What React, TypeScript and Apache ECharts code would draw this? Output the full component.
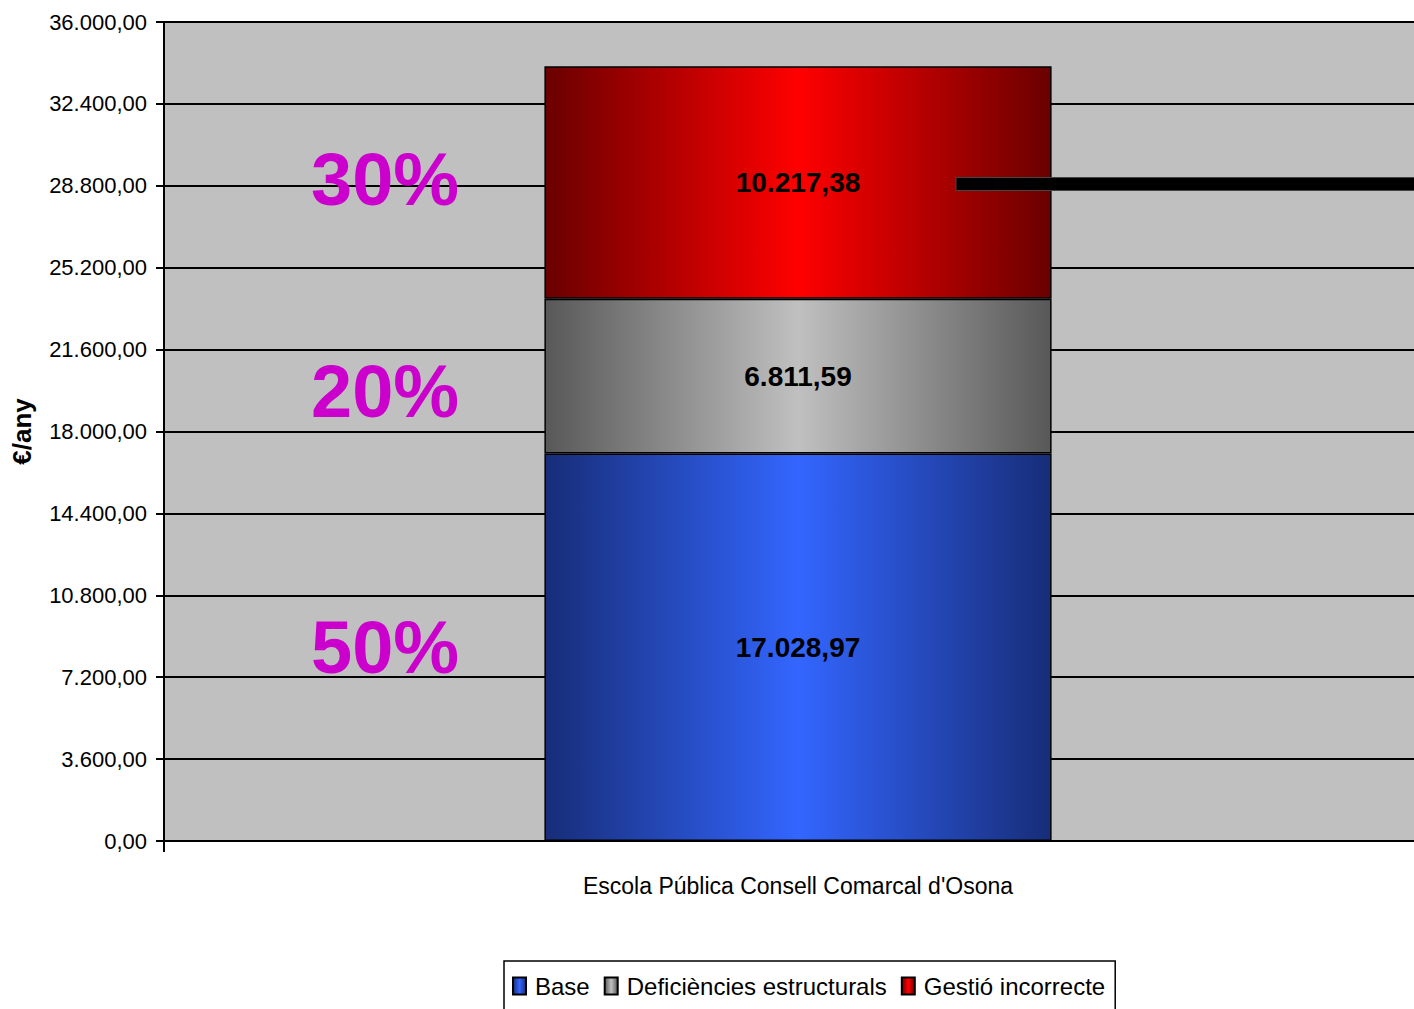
import React, { useEffect, useRef } from "react";
import * as echarts from "echarts";

const categories = ["Escola Pública Consell Comarcal d'Osona"];
const seriesNames = ["Base", "Deficiències estructurals", "Gestió incorrecte"];
const baseValues = [17028.97];
const deficienciesValues = [6811.59];
const gestioValues = [10217.38];
const pctLabels = ["50%", "20%", "30%"];
const yMin = 0;
const yMax = 36000;
const yInterval = 3600;

const NARROW = "'Liberation Sans Narrow', 'Arial Narrow', 'Liberation Sans', Arial, sans-serif";
const SANS = "'Liberation Sans', Arial, sans-serif";

function fmt(v: number): string {
  const fixed = Math.abs(v).toFixed(2);
  const [intPart, dec] = fixed.split(".");
  const withDots = intPart.replace(/\B(?=(\d{3})+(?!\d))/g, ".");
  return (v < 0 ? "-" : "") + withDots + "," + dec;
}

function grad(edge: string, mid: string) {
  return new echarts.graphic.LinearGradient(0, 0, 1, 0, [
    { offset: 0, color: edge },
    { offset: 0.5, color: mid },
    { offset: 1, color: edge },
  ]);
}

export default function App() {
  const ref = useRef<HTMLDivElement>(null);
  useEffect(() => {
    document.body.style.margin = "0";
    if (!ref.current) return;
    const chart = echarts.init(ref.current, undefined, { renderer: "svg" });
    const label = {
      show: true,
      position: "inside" as const,
      formatter: (p: any) => fmt(p.value),
      fontFamily: NARROW,
      fontWeight: "bold" as const,
      fontSize: 28,
      color: "#000",
    };
    const mk = (name: string, data: number[], edge: string, mid: string) => ({
      name,
      type: "bar" as const,
      stack: "total",
      barWidth: "40%",
      data,
      itemStyle: { color: grad(edge, mid), borderColor: "#000", borderWidth: 1.5 },
      label,
    });
    chart.setOption({
      animation: false,
      backgroundColor: "#fff",
      grid: {
        left: 164,
        top: 22,
        width: 1268,
        height: 819,
        outerBoundsMode: "none",
        containLabel: false,
        show: true,
        backgroundColor: "#C0C0C0",
        borderColor: "#808080",
        borderWidth: 1,
      },
      xAxis: {
        type: "category",
        data: categories,
        axisLine: { lineStyle: { color: "#000", width: 2 } },
        axisTick: { show: true, length: 11, lineStyle: { color: "#000", width: 2 } },
        axisLabel: { fontFamily: NARROW, fontSize: 23, color: "#000", margin: 33 },
      },
      yAxis: {
        type: "value",
        min: yMin,
        max: yMax,
        interval: yInterval,
        name: "€/any",
        nameLocation: "middle",
        nameGap: 129,
        nameTextStyle: { fontFamily: SANS, fontWeight: "bold", fontSize: 26, color: "#000" },
        axisLine: { show: true, lineStyle: { color: "#000", width: 2 } },
        axisTick: { show: true, length: 8, lineStyle: { color: "#000", width: 2 } },
        axisLabel: {
          fontFamily: NARROW,
          fontSize: 22,
          color: "#000",
          margin: 17,
          formatter: (v: number) => fmt(v),
        },
        splitLine: { show: true, lineStyle: { color: "#000", width: 2 } },
      },
      legend: {
        left: 504,
        top: 961,
        padding: [13, 10, 14, 8],
        itemGap: 14,
        itemWidth: 13,
        itemHeight: 17,
        icon: "rect",
        borderColor: "#000",
        borderWidth: 1.5,
        backgroundColor: "#fff",
        textStyle: { fontFamily: NARROW, fontSize: 24, color: "#000", padding: [0, 0, 0, 4] },
        data: seriesNames,
      },
      series: [
        mk(seriesNames[0], baseValues, "#172d78", "#3366ff"),
        mk(seriesNames[1], deficienciesValues, "#585858", "#c0c0c0"),
        mk(seriesNames[2], gestioValues, "#6a0000", "#ff0000"),
      ],
      graphic: [
        {
          type: "rect",
          shape: { x: 956, y: 177.5, width: 480, height: 13 },
          style: { fill: "#000", stroke: "#444", lineWidth: 1 },
          z: 100,
        },
        ...pctLabels.map((t, i) => ({
          type: "text",
          left: 311,
          top: [610, 354, 142][i],
          z: 100,
          style: {
            text: t,
            fill: "#CC00CC",
            font: `bold 74px ${SANS}`,
          },
        })),
      ],
    });
    return () => chart.dispose();
  }, []);
  return <div ref={ref} style={{ width: 1414, height: 1009 }} />;
}
